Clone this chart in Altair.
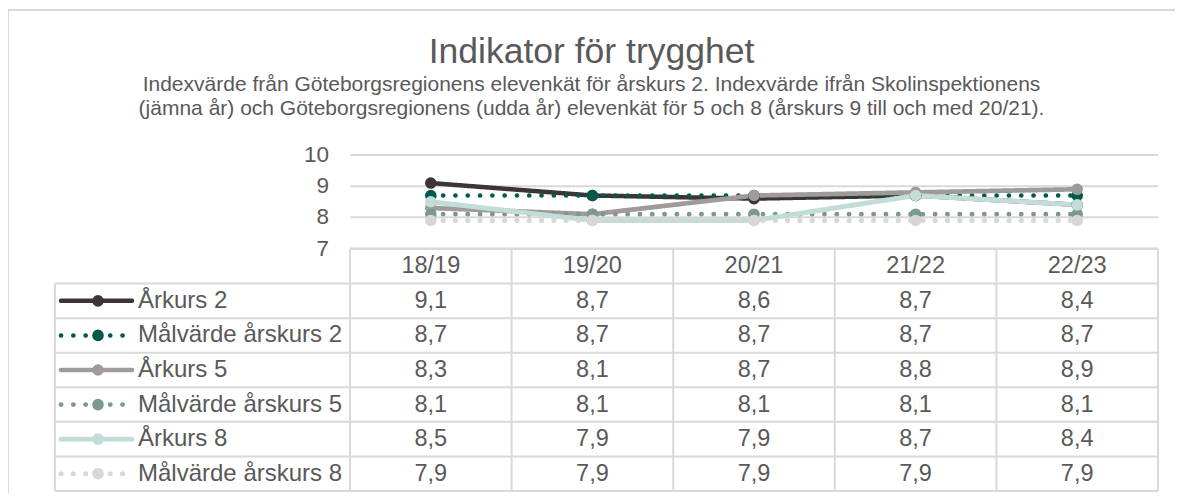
import altair as alt
import pandas as pd

# ---------------- data ----------------
categories = ["18/19", "19/20", "20/21", "21/22", "22/23"]
series_names = ["Årkurs 2", "Målvärde årskurs 2", "Årkurs 5",
                "Målvärde årskurs 5", "Årkurs 8", "Målvärde årskurs 8"]
arskurs_2 = [9.1, 8.7, 8.6, 8.7, 8.4]
malvarde_2 = [8.7, 8.7, 8.7, 8.7, 8.7]
arskurs_5 = [8.3, 8.1, 8.7, 8.8, 8.9]
malvarde_5 = [8.1, 8.1, 8.1, 8.1, 8.1]
arskurs_8 = [8.5, 7.9, 7.9, 8.7, 8.4]
malvarde_8 = [7.9, 7.9, 7.9, 7.9, 7.9]
y_ticks = [7, 8, 9, 10]

title_text = "Indikator för trygghet"
subtitle_lines = [
    "Indexvärde från Göteborgsregionens elevenkät för årskurs 2. Indexvärde ifrån Skolinspektionens",
    "(jämna år) och Göteborgsregionens (udda år) elevenkät för 5 och 8 (årskurs 9 till och med 20/21).",
]

# ---------------- styles ----------------
series_colors = ["#3d3533", "#005a4a", "#a09a99", "#7b9a8b", "#c2dcd8", "#d8d6d6"]
solid = [1, 0]
dotted = [0.1, 12.2]
series_dashes = [solid, dotted, solid, dotted, solid, dotted]
series_widths = [4.5, 5, 4.5, 5, 4.5, 5]
TEXT = "#595959"
GRID = "#d9d9d9"
FONT = "Liberation Sans"

# ---------------- layout (pixel -> scale units) ----------------
W, H = 1167, 483
ORIGIN_X, ORIGIN_Y = 8, 10          # absolute page position of plot origin
PLOT_L, COL_W = 350, 161.6          # absolute x of category area, column width
V7_Y, V_UNIT = 248.5, 31.17         # absolute y of value 7, px per value unit
R0_Y, R_UNIT = 249, 34.571          # absolute y of table top, px per row


def col(x_abs):
    return (x_abs - PLOT_L) / COL_W - 0.5


x_dom = [col(ORIGIN_X), col(ORIGIN_X + W)]
yv_dom = [7 - (ORIGIN_Y + H - V7_Y) / V_UNIT, 7 + (V7_Y - ORIGIN_Y) / V_UNIT]
yr_dom = [-(R0_Y - ORIGIN_Y) / R_UNIT, (ORIGIN_Y + H - R0_Y) / R_UNIT]

xs = alt.Scale(domain=x_dom, nice=False, zero=False)
yvs = alt.Scale(domain=yv_dom, nice=False, zero=False)
yrs = alt.Scale(domain=yr_dom, nice=False, zero=False, reverse=True)

LEG_LEFT = col(55)
SW0, SW1, SWM, LEG_TXT = col(61), col(132), col(98), col(138)
n_cat = len(categories)
n_rows = len(series_names) + 1

# ---------------- tables ----------------
all_values = [arskurs_2, malvarde_2, arskurs_5, malvarde_5, arskurs_8, malvarde_8]
rows = []
for si, (name, vals) in enumerate(zip(series_names, all_values)):
    for ci, (cat, v) in enumerate(zip(categories, vals)):
        rows.append({"series": name, "sidx": si, "cat": cat, "ci": ci, "v": v,
                     "label": f"{v:.1f}".replace(".", ","), "row": si + 1.5})
df = pd.DataFrame(rows)

color_scale = alt.Scale(domain=series_names, range=series_colors)
dash_scale = alt.Scale(domain=series_names, range=series_dashes)
width_scale = alt.Scale(domain=series_names, range=series_widths)

grid_df = pd.DataFrame({"v": y_ticks, "x0": -0.5, "x1": n_cat - 0.5})
hrule_df = pd.DataFrame({"r": list(range(n_rows + 1)),
                         "x0": [-0.5] + [LEG_LEFT] * n_rows,
                         "x1": n_cat - 0.5})
vb = [i - 0.5 for i in range(n_cat + 1)]
vrule_df = pd.DataFrame({"c": vb + [LEG_LEFT],
                         "r0": [0] * len(vb) + [1],
                         "r1": n_rows})
head_df = pd.DataFrame({"cat": categories, "ci": list(range(n_cat)), "r": 0.5})
sw_rows = []
for si, name in enumerate(series_names):
    for x in (SW0, SW1):
        sw_rows.append({"series": name, "x": x, "r": si + 1.5})
sw_df = pd.DataFrame(sw_rows)
legtxt_df = pd.DataFrame({"series": series_names, "x": LEG_TXT,
                          "xm": SWM,
                          "r": [i + 1.5 for i in range(len(series_names))]})
one = pd.DataFrame({"k": [0]})

# ---------------- layers ----------------
frame_top = alt.Chart(one).mark_rule(color=GRID, strokeWidth=2).encode(
    x=alt.value(0), x2=alt.value(W + 40), y=alt.value(0))
frame_left = alt.Chart(one).mark_rule(color=GRID, strokeWidth=2).encode(
    x=alt.value(0), y=alt.value(0), y2=alt.value(H + 20))

grid = alt.Chart(grid_df).mark_rule(color=GRID, strokeWidth=2).encode(
    x=alt.X("x0:Q", scale=xs, axis=None), x2="x1:Q",
    y=alt.Y("v:Q", scale=yvs, axis=None))

hrules = alt.Chart(hrule_df).mark_rule(color=GRID, strokeWidth=2).encode(
    x=alt.X("x0:Q", scale=xs, axis=None), x2="x1:Q",
    y=alt.Y("r:Q", scale=yrs, axis=None))

vrules = alt.Chart(vrule_df).mark_rule(color=GRID, strokeWidth=2).encode(
    x=alt.X("c:Q", scale=xs, axis=None),
    y=alt.Y("r0:Q", scale=yrs, axis=None), y2="r1:Q")

lines = alt.Chart(df).mark_line(strokeCap="round", strokeJoin="round").encode(
    x=alt.X("ci:Q", scale=xs, axis=None),
    y=alt.Y("v:Q", scale=yvs, axis=None),
    color=alt.Color("series:N", scale=color_scale, legend=None),
    strokeDash=alt.StrokeDash("series:N", scale=dash_scale, legend=None),
    strokeWidth=alt.StrokeWidth("series:N", scale=width_scale, legend=None),
    order=alt.Order("ci:Q"))

points = alt.Chart(df).mark_circle(size=135, opacity=1).encode(
    x=alt.X("ci:Q", scale=xs, axis=None),
    y=alt.Y("v:Q", scale=yvs, axis=None),
    color=alt.Color("series:N", scale=color_scale, legend=None),
    order=alt.Order("sidx:Q"))

ylabels = alt.Chart(grid_df).mark_text(align="right", baseline="middle", dx=-21,
                                       font=FONT, fontSize=22.5, color=TEXT).encode(
    x=alt.X("x0:Q", scale=xs, axis=None),
    y=alt.Y("v:Q", scale=yvs, axis=None),
    text="v:Q")

header = alt.Chart(head_df).mark_text(align="center", baseline="middle",
                                      font=FONT, fontSize=23.5, color=TEXT).encode(
    x=alt.X("ci:Q", scale=xs, axis=None),
    y=alt.Y("r:Q", scale=yrs, axis=None),
    text="cat:N")

values_txt = alt.Chart(df).mark_text(align="center", baseline="middle",
                                     font=FONT, fontSize=23.5, color=TEXT).encode(
    x=alt.X("ci:Q", scale=xs, axis=None),
    y=alt.Y("row:Q", scale=yrs, axis=None),
    text="label:N")

sw_lines = alt.Chart(sw_df).mark_line(strokeCap="round").encode(
    x=alt.X("x:Q", scale=xs, axis=None),
    y=alt.Y("r:Q", scale=yrs, axis=None),
    color=alt.Color("series:N", scale=color_scale, legend=None),
    strokeDash=alt.StrokeDash("series:N", scale=dash_scale, legend=None),
    strokeWidth=alt.StrokeWidth("series:N", scale=width_scale, legend=None),
    detail="series:N")

sw_pts = alt.Chart(legtxt_df).mark_circle(size=135, opacity=1).encode(
    x=alt.X("xm:Q", scale=xs, axis=None),
    y=alt.Y("r:Q", scale=yrs, axis=None),
    color=alt.Color("series:N", scale=color_scale, legend=None))

leg_txt = alt.Chart(legtxt_df).mark_text(align="left", baseline="middle",
                                         font=FONT, fontSize=24, color=TEXT).encode(
    x=alt.X("x:Q", scale=xs, axis=None),
    y=alt.Y("r:Q", scale=yrs, axis=None),
    text="series:N")

chart = alt.layer(
    frame_top, frame_left, grid, hrules, vrules, lines, points, ylabels,
    header, values_txt, sw_lines, sw_pts, leg_txt
).resolve_scale(y="independent").properties(
    width=W, height=H,
    autosize="none",
    padding={"left": 0, "top": 2, "right": 0, "bottom": 0},
    background="white",
    title=alt.TitleParams(
        text=title_text, subtitle=subtitle_lines, anchor="middle",
        font=FONT, fontSize=35.5, fontWeight="normal", color=TEXT,
        subtitleFont=FONT, subtitleFontSize=21, subtitleColor=TEXT,
        subtitleLineHeight=24, subtitlePadding=4, offset=-110),
).configure_view(stroke="transparent", strokeWidth=0)

chart.save("out.html", embed_options={"renderer": "svg", "actions": False})
